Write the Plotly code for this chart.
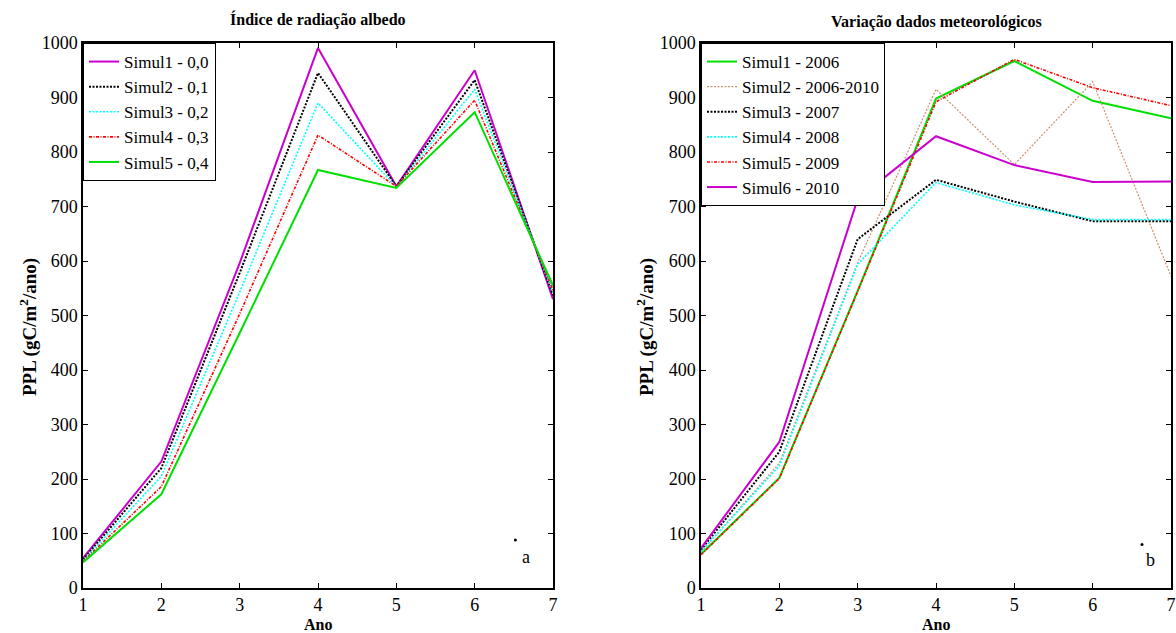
import plotly.graph_objects as go

# ---------------- data ----------------
years = [1, 2, 3, 4, 5, 6, 7]

albedo_names = ["Simul1 - 0,0", "Simul2 - 0,1", "Simul3 - 0,2", "Simul4 - 0,3", "Simul5 - 0,4"]
albedo_s1 = [55, 232, 596, 991, 737, 950, 530]
albedo_s2 = [52, 220, 578, 945, 737, 932, 537]
albedo_s3 = [50, 205, 543, 890, 736, 915, 542]
albedo_s4 = [49, 186, 503, 831, 737, 895, 547]
albedo_s5 = [47, 172, 468, 767, 734, 873, 555]

met_names = ["Simul1 - 2006", "Simul2 - 2006-2010", "Simul3 - 2007",
             "Simul4 - 2008", "Simul5 - 2009", "Simul6 - 2010"]
met_s1 = [62, 202, 545, 898, 967, 894, 862]
met_s2 = [66, 229, 597, 915, 777, 929, 572]
met_s3 = [70, 250, 640, 749, 709, 673, 673]
met_s4 = [67, 224, 594, 744, 703, 676, 676]
met_s5 = [61, 201, 544, 892, 970, 918, 885]
met_s6 = [73, 268, 714, 829, 776, 745, 746]

y_ticks = [0, 100, 200, 300, 400, 500, 600, 700, 800, 900, 1000]
x_ticks = [1, 2, 3, 4, 5, 6, 7]

# panel markers (dot + letter)
mark_a_dot = (6.52, 88)
mark_a_text = (6.65, 57, "a")
mark_b_dot = (6.63, 80)
mark_b_text = (6.74, 51, "b")

# ---------------- styles ----------------
FONT = "Liberation Serif, Times New Roman, serif"
MAG = "#CC00CC"
GRN = "#00E000"
CYN = "#00FFFF"
RED = "#FF0000"
BLK = "#000000"
BRN = "#D09070"

albedo_styles = [
    dict(color=MAG, width=2, dash="solid"),
    dict(color=BLK, width=2, dash="2px,1.5px"),
    dict(color=CYN, width=1.6, dash="2px,1.5px"),
    dict(color=RED, width=1.6, dash="3px,1.5px,1px,1.5px"),
    dict(color=GRN, width=2, dash="solid"),
]
met_styles = [
    dict(color=GRN, width=2, dash="solid"),
    dict(color=BRN, width=1.2, dash="2px,1.5px"),
    dict(color=BLK, width=2, dash="2px,1.5px"),
    dict(color=CYN, width=1.6, dash="2px,1.5px"),
    dict(color=RED, width=1.6, dash="3px,1.5px,1px,1.5px"),
    dict(color=MAG, width=2, dash="solid"),
]

fig = go.Figure()

albedo_series = [albedo_s1, albedo_s2, albedo_s3, albedo_s4, albedo_s5]
for name, vals, st in zip(albedo_names, albedo_series, albedo_styles):
    fig.add_trace(go.Scatter(x=years, y=vals, mode="lines", name=name, line=st,
                             xaxis="x", yaxis="y", legend="legend"))

met_series = [met_s1, met_s2, met_s3, met_s4, met_s5, met_s6]
for name, vals, st in zip(met_names, met_series, met_styles):
    fig.add_trace(go.Scatter(x=years, y=vals, mode="lines", name=name, line=st,
                             xaxis="x2", yaxis="y2", legend="legend2"))

# dots
fig.add_trace(go.Scatter(x=[mark_a_dot[0]], y=[mark_a_dot[1]], mode="markers",
                         marker=dict(color="black", size=3), showlegend=False,
                         xaxis="x", yaxis="y", hoverinfo="skip"))
fig.add_trace(go.Scatter(x=[mark_b_dot[0]], y=[mark_b_dot[1]], mode="markers",
                         marker=dict(color="black", size=3), showlegend=False,
                         xaxis="x2", yaxis="y2", hoverinfo="skip"))

W, H = 1176, 633
L1, R1 = 83 / W, 553 / W
L2, R2 = 701 / W, 1171 / W
B, T = (H - 588) / H, (H - 43) / H

axis_common = dict(showline=True, linecolor="black", linewidth=1.5, mirror="ticks",
                   ticks="inside", ticklen=5, tickwidth=1, tickcolor="black",
                   showgrid=False, zeroline=False, automargin=False,
                   tickfont=dict(family=FONT, size=18, color="black"))

legend_common = dict(xanchor="left", yanchor="top", bgcolor="white",
                     bordercolor="black", borderwidth=1, itemwidth=30,
                     font=dict(family=FONT, size=17, color="black"), tracegroupgap=0)

fig.update_layout(
    width=W, height=H,
    margin=dict(l=0, r=0, t=0, b=0, autoexpand=False),
    paper_bgcolor="white", plot_bgcolor="white",
    font=dict(family=FONT, color="black"),
    xaxis=dict(domain=[L1, R1], range=[1, 7], tickvals=x_ticks, anchor="y", **axis_common),
    yaxis=dict(domain=[B, T], range=[0, 1000], tickvals=y_ticks, anchor="x", **axis_common),
    xaxis2=dict(domain=[L2, R2], range=[1, 7], tickvals=x_ticks, anchor="y2", **axis_common),
    yaxis2=dict(domain=[B, T], range=[0, 1000], tickvals=y_ticks, anchor="x2", **axis_common),
    legend=dict(x=L1, y=T, **legend_common),
    legend2=dict(x=L2, y=T, **legend_common),
    showlegend=True,
)

ann = []
def paper_text(text, px, py, size, angle=0):
    return dict(text=text, x=px / W, y=1 - py / H, xref="paper", yref="paper",
                xanchor="center", yanchor="middle", showarrow=False, textangle=angle,
                font=dict(family=FONT, size=size, color="black"))

ann.append(paper_text("<b>Índice de radiação albedo</b>", (83 + 553) / 2, 20, 16))
ann.append(paper_text("<b>Variação dados meteorológicos</b>", (701 + 1171) / 2, 22, 16))
ann.append(paper_text("<b>Ano</b>", (83 + 553) / 2, 624, 16))
ann.append(paper_text("<b>Ano</b>", (701 + 1171) / 2, 624, 16))
ann.append(paper_text("<b>PPL (gC/m<sup>2</sup>/ano)</b>", 28, 327, 19, -90))
ann.append(paper_text("<b>PPL (gC/m<sup>2</sup>/ano)</b>", 645, 327, 19, -90))
ann.append(dict(text=mark_a_text[2], x=mark_a_text[0], y=mark_a_text[1], xref="x", yref="y",
                xanchor="center", yanchor="middle",
                showarrow=False, font=dict(family=FONT, size=18, color="black")))
ann.append(dict(text=mark_b_text[2], x=mark_b_text[0], y=mark_b_text[1], xref="x2", yref="y2",
                xanchor="center", yanchor="middle",
                showarrow=False, font=dict(family=FONT, size=18, color="black")))
fig.update_layout(annotations=ann)

fig.write_html("out.html", config={"displayModeBar": False},
               post_script="document.body.style.margin='0';document.body.style.overflow='hidden';")
